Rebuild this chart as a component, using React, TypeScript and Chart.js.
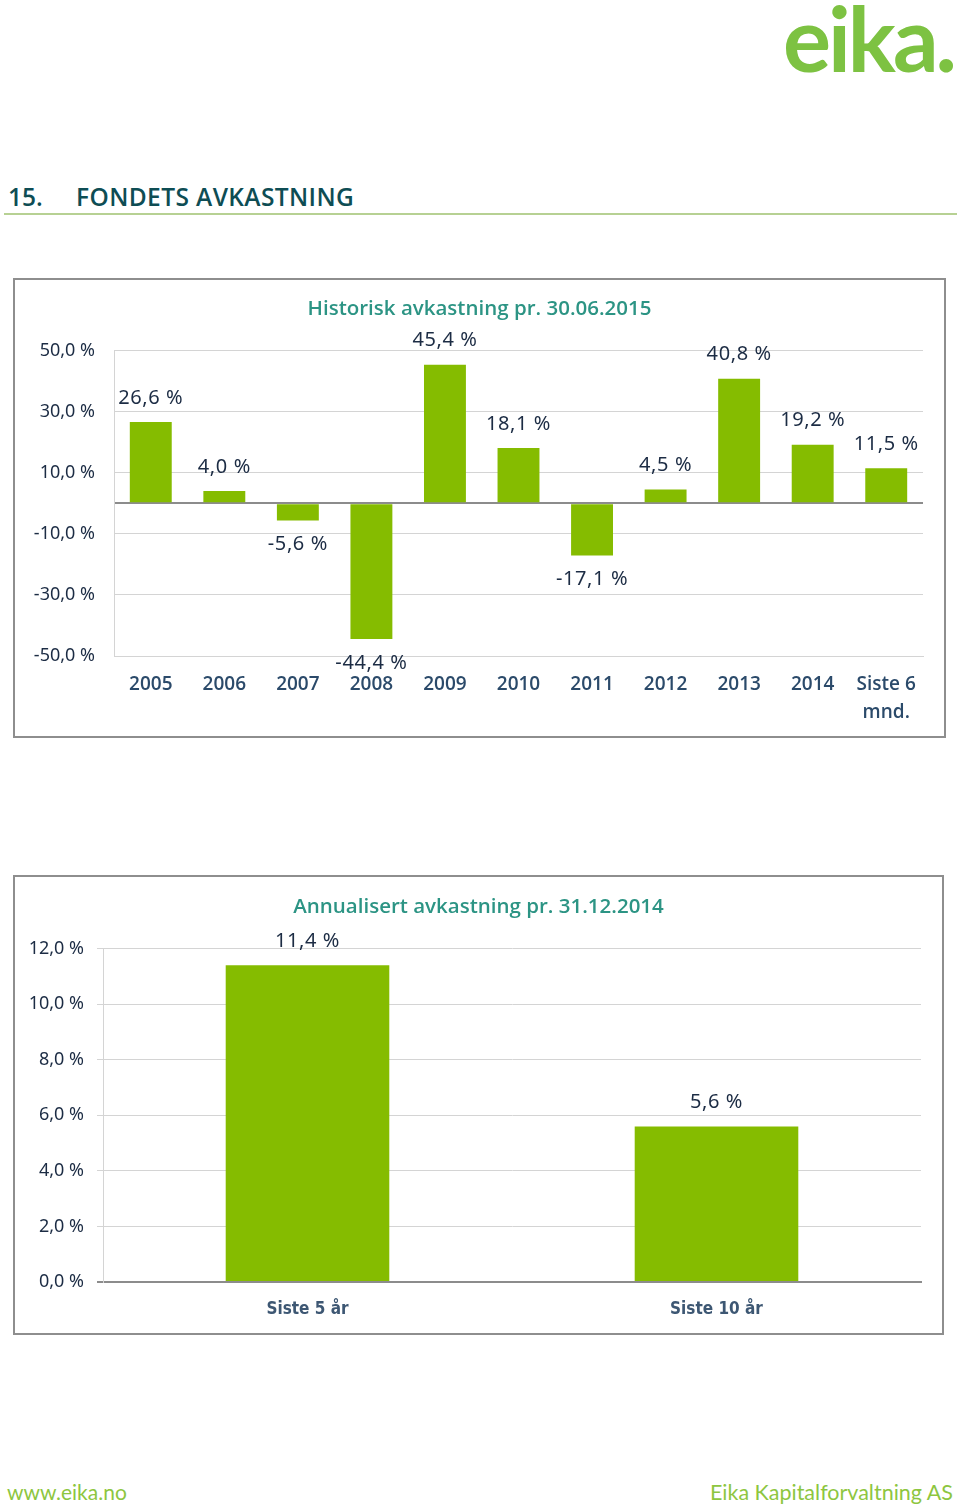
import React, { useEffect, useRef } from 'react';
import { Chart, registerables } from 'chart.js';

Chart.register(...registerables);

// ---------- data ----------
const histCategories: (string | string[])[] = ['2005', '2006', '2007', '2008', '2009', '2010', '2011', '2012', '2013', '2014', ['Siste 6', 'mnd.']];
const histValues: number[] = [26.6, 4.0, -5.6, -44.4, 45.4, 18.1, -17.1, 4.5, 40.8, 19.2, 11.5];
const histTicks: number[] = [-50, -30, -10, 0, 10, 30, 50];
const histTitle = 'Historisk avkastning pr. 30.06.2015';

const annCategories: string[] = ['Siste 5 år', 'Siste 10 år'];
const annValues: number[] = [11.4, 5.6];
const annTicks: number[] = [0, 2, 4, 6, 8, 10, 12];
const annTitle = 'Annualisert avkastning pr. 31.12.2014';

const BAR_GREEN = '#85bc00';
const GRID = '#d4d4d4';
const AXIS_DARK = '#8c8c8c';
const LABEL_DARK = '#1c2c44';
const TITLE_TEAL = '#2c9484';

const fmt = (v: number) => v.toFixed(1).replace('.', ',') + ' %';

type Props = {
  labels: (string | string[])[];
  values: number[];
  ticks: number[];
  title: string;
  width: number;
  height: number;
  yAxisWidth: number;
  xAxisHeight: number;
  padRight: number;
  titlePadTop: number;
  titlePadBottom: number;
  barPct: number;
  tickLen: number;
  tickPad: number;
  hideZeroLabel: boolean;
  xFont: any;
  xColor: string;
  xPad: number;
  xBorderColor: string;
  xBorderWidth: number;
};

function BarChart(p: Props) {
  const ref = useRef<HTMLCanvasElement | null>(null);
  useEffect(() => {
    if (!ref.current) return;
    const valueLabels = {
      id: 'valueLabels',
      afterDatasetsDraw(chart: any) {
        const { ctx } = chart;
        const meta = chart.getDatasetMeta(0);
        const data = chart.data.datasets[0].data as number[];
        ctx.save();
        ctx.font = '20px "Noto Sans"';
        try {
          (ctx as any).letterSpacing = '0.6px';
        } catch (e) {}
        ctx.fillStyle = LABEL_DARK;
        ctx.textAlign = 'center';
        ctx.textBaseline = 'middle';
        meta.data.forEach((el: any, i: number) => {
          const v = data[i];
          const y = v >= 0 ? el.y - 24 : el.y + 24;
          ctx.fillText(fmt(v), el.x, y);
        });
        ctx.restore();
      },
    };
    const chart = new Chart(ref.current, {
      type: 'bar',
      data: {
        labels: p.labels as any,
        datasets: [
          {
            data: p.values,
            backgroundColor: BAR_GREEN,
            borderWidth: 0,
            categoryPercentage: 1,
            barPercentage: p.barPct,
          },
        ],
      },
      options: {
        responsive: false,
        animation: false,
        devicePixelRatio: 1,
        layout: { padding: 0 },
        plugins: {
          legend: { display: false },
          tooltip: { enabled: false },
          title: {
            display: true,
            text: p.title,
            color: TITLE_TEAL,
            font: { family: 'Open Sans', size: 20.5, weight: '600', lineHeight: 1.2 },
            padding: { top: p.titlePadTop, bottom: p.titlePadBottom },
          },
        },
        scales: {
          x: {
            grid: { display: false, drawTicks: false },
            border: { display: true, color: p.xBorderColor, width: p.xBorderWidth },
            ticks: {
              color: p.xColor,
              font: p.xFont,
              padding: p.xPad,
              maxRotation: 0,
              autoSkip: false,
            },
            afterFit: (s: any) => {
              s.height = p.xAxisHeight;
            },
          },
          y: {
            min: p.ticks[0],
            max: p.ticks[p.ticks.length - 1],
            afterBuildTicks: (s: any) => {
              s.ticks = p.ticks.map((v) => ({ value: v }));
            },
            afterFit: (s: any) => {
              s.width = p.yAxisWidth;
            },
            grid: {
              color: (c: any) => (c.tick && c.tick.value === 0 ? AXIS_DARK : GRID),
              lineWidth: (c: any) => (c.tick && c.tick.value === 0 ? 2 : 1),
              drawTicks: p.tickLen > 0,
              tickLength: p.tickLen,
            },
            border: { display: true, color: GRID, width: 1 },
            ticks: {
              color: LABEL_DARK,
              font: { family: 'Noto Sans', size: 18 },
              padding: p.tickPad,
              callback: (v: any) => (Number(v) === 0 && p.hideZeroLabel ? '' : fmt(Number(v))),
            },
          },
          // empty right-hand spacer so the title stays centred on the whole box
          spacer: {
            type: 'linear',
            position: 'right',
            display: true,
            grid: { display: false, drawTicks: false },
            border: { display: false },
            ticks: { display: false },
            afterFit: (s: any) => {
              s.width = p.padRight;
            },
          },
        },
      },
      plugins: [valueLabels],
    } as any);
    return () => chart.destroy();
  }, []);
  return <canvas ref={ref} width={p.width} height={p.height} style={{ display: 'block' }} />;
}

export default function App() {
  return (
    <div
      style={{
        position: 'absolute',
        left: 0,
        top: 0,
        width: 960,
        height: 1507,
        background: '#ffffff',
        overflow: 'hidden',
        fontFamily: '"Noto Sans", sans-serif',
      }}
    >
      {/* logo */}
      <div
        style={{
          position: 'absolute',
          right: 6,
          top: -18,
          fontFamily: 'Lato',
          fontWeight: 700,
          fontSize: 90,
          letterSpacing: -3,
          color: '#7dc242',
          lineHeight: '110px',
        }}
      >
        eika.
      </div>

      {/* header */}
      <div
        style={{
          position: 'absolute',
          left: 8,
          top: 182,
          fontFamily: 'Open Sans',
          fontWeight: 600,
          fontSize: 24.5,
          lineHeight: '30px',
          color: '#0e4d54',
          whiteSpace: 'nowrap',
        }}
      >
        15.
      </div>
      <div
        style={{
          position: 'absolute',
          left: 76,
          top: 182,
          fontFamily: 'Open Sans',
          fontWeight: 600,
          fontSize: 24.5,
          letterSpacing: 0.4,
          lineHeight: '30px',
          color: '#0e4d54',
          whiteSpace: 'nowrap',
        }}
      >
        FONDETS AVKASTNING
      </div>
      <div style={{ position: 'absolute', left: 4, top: 213, width: 953, height: 2, background: '#b7d193' }} />

      {/* chart 1 box */}
      <div
        style={{
          position: 'absolute',
          left: 13,
          top: 278,
          width: 929,
          height: 456,
          border: '2px solid #8e8e8e',
        }}
      >
        <BarChart
          labels={histCategories}
          values={histValues}
          ticks={histTicks}
          title={histTitle}
          width={929}
          height={456}
          yAxisWidth={99}
          xAxisHeight={80}
          padRight={21}
          titlePadTop={17}
          titlePadBottom={29}
          barPct={0.57}
          tickLen={0}
          tickPad={19}
          hideZeroLabel={true}
          xFont={{ family: 'Open Sans', size: 19, weight: '600', lineHeight: 1.45 }}
          xColor="#2b4a6a"
          xPad={15}
          xBorderColor={GRID}
          xBorderWidth={1}
        />
      </div>

      {/* chart 2 box */}
      <div
        style={{
          position: 'absolute',
          left: 13,
          top: 875,
          width: 927,
          height: 456,
          border: '2px solid #8e8e8e',
        }}
      >
        <BarChart
          labels={annCategories}
          values={annValues}
          ticks={annTicks}
          title={annTitle}
          width={927}
          height={456}
          yAxisWidth={88}
          xAxisHeight={51}
          padRight={21}
          titlePadTop={18}
          titlePadBottom={29}
          barPct={0.4}
          tickLen={6}
          tickPad={13}
          hideZeroLabel={false}
          xFont={{ family: 'DejaVu Sans Condensed', size: 17, weight: 'bold', lineHeight: 1.2 }}
          xColor="#3d5773"
          xPad={17}
          xBorderColor={AXIS_DARK}
          xBorderWidth={2}
        />
      </div>

      {/* footer */}
      <div
        style={{
          position: 'absolute',
          left: 7,
          top: 1479,
          fontFamily: 'Lato',
          fontSize: 21,
          lineHeight: '26px',
          color: '#8dc63f',
        }}
      >
        www.eika.no
      </div>
      <div
        style={{
          position: 'absolute',
          right: 7,
          top: 1479,
          fontFamily: 'Lato',
          fontSize: 21.5,
          lineHeight: '26px',
          color: '#8dc63f',
        }}
      >
        Eika Kapitalforvaltning AS
      </div>
    </div>
  );
}
